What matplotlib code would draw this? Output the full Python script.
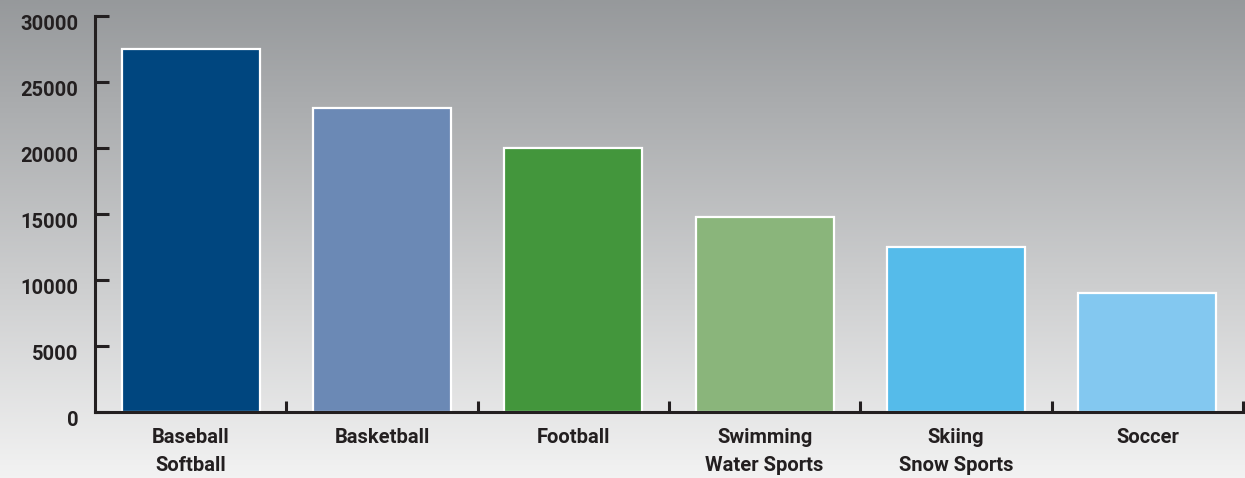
import matplotlib.pyplot as plt
import matplotlib.transforms as mtransforms
import numpy as np

categories = ['Baseball\nSoftball', 'Basketball', 'Football',
              'Swimming\nWater Sports', 'Skiing\nSnow Sports', 'Soccer']
values = [27500, 23000, 20000, 14800, 12500, 9000]
colors = ['#00467f', '#6b89b5', '#43963c', '#8ab57b', '#55bbea', '#83c8f0']
yticks = [0, 5000, 10000, 15000, 20000, 25000, 30000]

ink = '#231f20'
plt.rcParams['font.family'] = ['Roboto', 'DejaVu Sans']

fig = plt.figure(figsize=(12.45, 4.78), dpi=100)

# gradient background over the whole figure
bg = fig.add_axes([0, 0, 1, 1], zorder=-1)
grad = np.linspace(0, 1, 256).reshape(-1, 1)
top = np.array([0.59, 0.60, 0.61])
bot = np.array([0.95, 0.95, 0.95])
img = top + (bot - top) * grad[..., None]
bg.imshow(img, aspect='auto', extent=[0, 1, 0, 1], origin='upper')
bg.axis('off')

ax = fig.add_axes([95 / 1245, 66 / 478, 1148 / 1245, 396 / 478])
ax.patch.set_alpha(0)

x = np.arange(len(categories))
ax.bar(x, values, width=0.72, color=colors, edgecolor='white', linewidth=1.6, zorder=2)

ax.set_xlim(-0.5, len(categories) - 0.5)
ax.set_ylim(0, 30000)

for s in ['top', 'right']:
    ax.spines[s].set_visible(False)
for s in ['left', 'bottom']:
    ax.spines[s].set_linewidth(2.2)
    ax.spines[s].set_color(ink)
    ax.spines[s].set_zorder(3)

ax.set_yticks(yticks)
ax.set_yticklabels([str(v) for v in yticks])
ax.tick_params(axis='y', direction='in', length=10, width=2.2, color=ink,
               pad=12, labelsize=14.5, labelcolor=ink)
for lab in ax.get_yticklabels():
    lab.set_fontweight('bold')
    lab.set_transform(lab.get_transform() + mtransforms.ScaledTranslation(0, -6 / 100, fig.dpi_scale_trans))

# ticks between categories, labels at centers
ax.set_xticks(np.arange(len(categories)) + 0.5)
ax.set_xticklabels([])
ax.tick_params(axis='x', direction='in', length=8, width=2.2, color=ink)
for xi, lab in zip(x, categories):
    ax.text(xi, -1200, lab, ha='center', va='top', fontsize=14.5, fontweight='bold',
            color=ink, linespacing=1.6)

fig.savefig('out.png', dpi=100)
